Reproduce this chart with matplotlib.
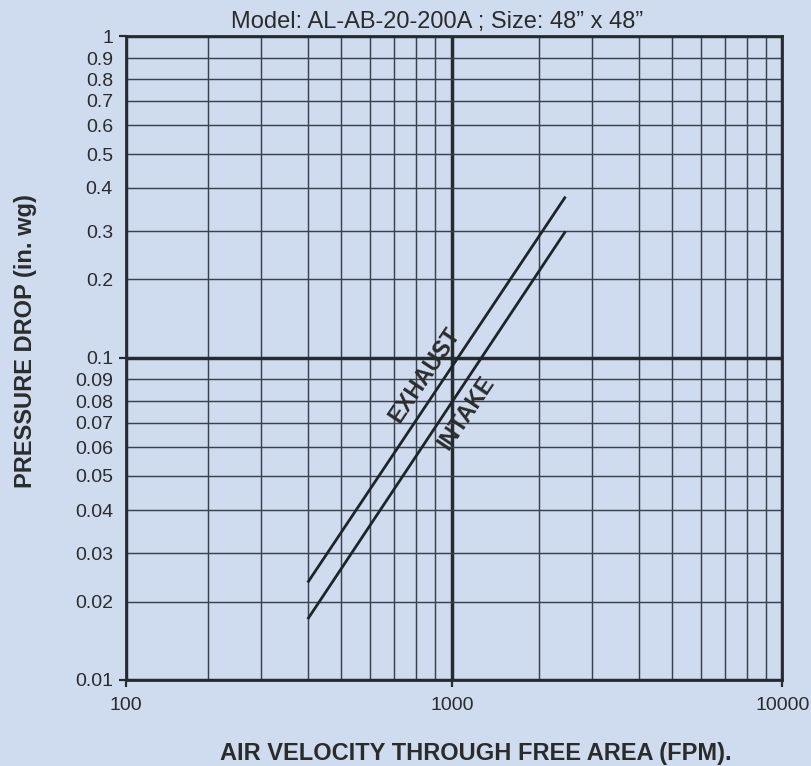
import numpy as np
import matplotlib
matplotlib.use("Agg")
import matplotlib.pyplot as plt
from matplotlib.ticker import FixedLocator, FixedFormatter

plt.rcParams['font.family'] = ['Liberation Sans', 'DejaVu Sans']

# ---------------- data ----------------
title = "Model: AL-AB-20-200A ; Size: 48\u201d x 48\u201d"
x_label = "AIR VELOCITY THROUGH FREE AREA (FPM)."
y_label = "PRESSURE DROP (in. wg)"

x_major = [100, 1000, 10000]
x_minor = [200, 300, 400, 500, 600, 700, 800, 900,
           2000, 3000, 4000, 5000, 6000, 7000, 8000, 9000]
x_tick_labels = ["100", "1000", "10000"]

y_major = [0.01, 0.1, 1]
y_minor = [0.02, 0.03, 0.04, 0.05, 0.06, 0.07, 0.08, 0.09,
           0.2, 0.3, 0.4, 0.5, 0.6, 0.7, 0.8, 0.9]
y_tick_labels_major = ["0.01", "0.1", "1"]
y_tick_labels_minor = ["0.02", "0.03", "0.04", "0.05", "0.06", "0.07", "0.08", "0.09",
                       "0.2", "0.3", "0.4", "0.5", "0.6", "0.7", "0.8", "0.9"]

exhaust_fpm = [400, 2500]
exhaust_dp = [0.024, 0.38]
intake_fpm = [400, 2500]
intake_dp = [0.0178, 0.30]

# ---------------- axis calibration (the printed chart's non-uniform scale) ----------------
x_cal_vals = [100, 200, 300, 400, 500, 600, 700, 800, 900, 1000,
              2000, 3000, 4000, 5000, 6000, 7000, 8000, 9000, 10000]
x_cal_pos = [0.0, 82.3, 135.3, 181.7, 215.3, 244.3, 268.3, 290.0, 309.3, 326.3,
             413.0, 466.0, 512.7, 546.3, 574.7, 599.0, 620.7, 640.0, 656.3]
y_cal_vals = [0.01, 0.02, 0.03, 0.04, 0.05, 0.06, 0.07, 0.08, 0.09, 0.1,
              0.2, 0.3, 0.4, 0.5, 0.6, 0.7, 0.8, 0.9, 1.0]
y_cal_pos = [0.0, 78.0, 126.7, 169.7, 204.0, 232.7, 257.3, 279.0, 300.7, 322.2,
             400.7, 448.7, 492.0, 526.0, 554.7, 579.3, 600.7, 621.7, 644.0]


def make_scale(vals, pos):
    vals = np.asarray(vals, float)
    pos = np.asarray(pos, float)
    s0 = (pos[1] - pos[0]) / (vals[1] - vals[0])
    s1 = (pos[-1] - pos[-2]) / (vals[-1] - vals[-2])

    def fwd(v):
        v = np.asarray(v, float)
        out = np.interp(v, vals, pos)
        out = np.where(v < vals[0], pos[0] + (v - vals[0]) * s0, out)
        out = np.where(v > vals[-1], pos[-1] + (v - vals[-1]) * s1, out)
        return out

    def inv(p):
        p = np.asarray(p, float)
        out = np.interp(p, pos, vals)
        out = np.where(p < pos[0], vals[0] + (p - pos[0]) / s0, out)
        out = np.where(p > pos[-1], vals[-1] + (p - pos[-1]) / s1, out)
        return out
    return fwd, inv


# ---------------- styling ----------------
bg = '#cfdcf0'
ink = '#262b31'
text_c = '#2b2b2b'

W, H = 812, 766
fig = plt.figure(figsize=(W / 100, H / 100), dpi=100, facecolor=bg)
ax = fig.add_axes([126 / W, 86 / H, 656.3 / W, 644 / H], facecolor=bg)

ax.set_xscale('function', functions=make_scale(x_cal_vals, x_cal_pos))
ax.set_yscale('function', functions=make_scale(y_cal_vals, y_cal_pos))
ax.set_xlim(100, 10000)
ax.set_ylim(0.01, 1)

ax.xaxis.set_major_locator(FixedLocator(x_major))
ax.xaxis.set_major_formatter(FixedFormatter(x_tick_labels))
ax.xaxis.set_minor_locator(FixedLocator(x_minor))
ax.xaxis.set_minor_formatter(FixedFormatter([""] * len(x_minor)))
ax.yaxis.set_major_locator(FixedLocator(y_major))
ax.yaxis.set_major_formatter(FixedFormatter(y_tick_labels_major))
ax.yaxis.set_minor_locator(FixedLocator(y_minor))
ax.yaxis.set_minor_formatter(FixedFormatter(y_tick_labels_minor))

ax.tick_params(which='major', direction='out', length=5, width=1.6, color=ink,
               labelsize=14, labelcolor=text_c)
ax.tick_params(axis='y', which='major', pad=4.4)
ax.tick_params(axis='x', which='major', pad=7)
ax.tick_params(which='minor', length=0, labelsize=14, labelcolor=text_c)
ax.tick_params(axis='y', which='minor', pad=9.4)

ax.grid(which='minor', color='#3a434d', linewidth=1.05)
ax.grid(which='major', color=ink, linewidth=2.5)
ax.set_axisbelow(True)
for s in ax.spines.values():
    s.set_color(ink)
    s.set_linewidth(2.0)

ax.plot(exhaust_fpm, exhaust_dp, color='#1f2429', linewidth=2.0, solid_capstyle='butt')
ax.plot(intake_fpm, intake_dp, color='#1f2429', linewidth=2.0, solid_capstyle='butt')

ax.text(845, 0.092, "EXHAUST", rotation=56, rotation_mode='anchor',
        ha='center', va='center', fontsize=16.5, fontweight='bold', color=text_c)
ax.text(1165, 0.0747, "INTAKE", rotation=56, rotation_mode='anchor',
        ha='center', va='center', fontsize=16.5, fontweight='bold', color=text_c)

fig.text(437.5 / W, 1 - 28.3 / H, title, ha='center', va='baseline',
         fontsize=17, color=text_c)
fig.text(220 / W, 6 / H, x_label, ha='left', va='baseline',
         fontsize=17, fontweight='bold', color=text_c)
fig.text(25.5 / W, 1 - 341 / H, y_label, rotation=90, ha='center', va='center',
         fontsize=17, fontweight='bold', color=text_c)

fig.savefig("out.png", dpi=100, facecolor=bg)
